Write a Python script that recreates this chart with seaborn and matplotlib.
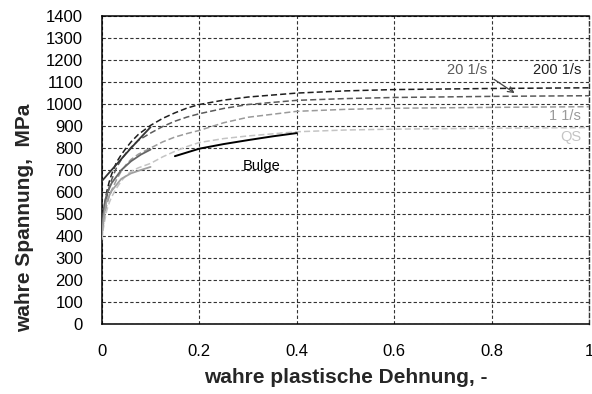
import matplotlib
matplotlib.use("Agg")
import matplotlib.pyplot as plt
import seaborn as sns
import pandas as pd

# Fitted flow curves (true plastic strain vs. true stress, MPa)
strain_fit = [0.0, 0.0025, 0.005, 0.01, 0.015, 0.02, 0.03, 0.04, 0.05, 0.06,
              0.075, 0.1, 0.125, 0.15, 0.175, 0.2, 0.25, 0.3, 0.4, 0.5,
              0.6, 0.8, 1.0]
stress_200 = [420, 480, 530, 600, 645, 680, 735, 770, 800, 828,
              862, 903, 935, 960, 982, 998, 1018, 1032, 1050, 1060,
              1066, 1071, 1074]
stress_20 = [400, 460, 505, 575, 620, 655, 710, 748, 778, 803,
             835, 868, 898, 922, 941, 956, 980, 998, 1017, 1025,
             1030, 1035, 1038]
stress_1 = [390, 440, 480, 540, 578, 607, 655, 695, 725, 748,
            772, 800, 828, 850, 866, 880, 915, 940, 967, 976,
            981, 985, 988]
stress_qs = [380, 425, 460, 515, 550, 577, 617, 650, 676, 693,
             710, 730, 760, 785, 807, 825, 843, 855, 874, 882,
             886, 890, 893]

# Measured segments (tensile tests up to 0.1, bulge test 0.15..0.4)
strain_meas = [0.0, 0.005, 0.01, 0.02, 0.04, 0.06, 0.08, 0.1]
meas_dark = [650, 662, 675, 700, 750, 800, 848, 895]
meas_mid = [430, 540, 590, 640, 700, 740, 770, 793]
meas_light = [405, 500, 560, 605, 660, 685, 700, 714]

strain_bulge = [0.15, 0.2, 0.25, 0.3, 0.35, 0.4]
stress_bulge = [763, 797, 818, 836, 853, 868]

fit_labels = ["200 1/s", "20 1/s", "1 1/s", "QS"]
fit_colors = ["#1e1e1e", "#5a5a5a", "#9a9a9a", "#c4c4c4"]

sns.set_style("white")
plt.rcParams["font.family"] = ["Liberation Sans", "DejaVu Sans"]

fig = plt.figure(figsize=(5.92, 3.94), dpi=100)
ax = fig.add_axes([0.172, 0.178, 0.823, 0.781])

for lbl, ys, col in zip(fit_labels, [stress_200, stress_20, stress_1, stress_qs], fit_colors):
    df = pd.DataFrame({"strain": strain_fit, "stress": ys})
    sns.lineplot(data=df, x="strain", y="stress", ax=ax, color=col,
                 linewidth=1.1, linestyle=(0, (4, 2)), zorder=3)

for ys, col in zip([meas_dark, meas_mid, meas_light], ["#333333", "#666666", "#a0a0a0"]):
    df = pd.DataFrame({"strain": strain_meas, "stress": ys})
    sns.lineplot(data=df, x="strain", y="stress", ax=ax, color=col,
                 linewidth=1.3, zorder=4)

df_b = pd.DataFrame({"strain": strain_bulge, "stress": stress_bulge})
sns.lineplot(data=df_b, x="strain", y="stress", ax=ax, color="#000000",
             linewidth=1.4, zorder=5)

ax.set_xlim(0, 1)
ax.set_ylim(0, 1400)
ax.set_xticks([0, 0.2, 0.4, 0.6, 0.8, 1.0])
ax.set_xticklabels(["0", "0.2", "0.4", "0.6", "0.8", "1"])
ax.set_yticks(range(0, 1401, 100))
ax.tick_params(axis="both", length=0, labelsize=12, colors="black")
ax.tick_params(axis="x", pad=14.5)
ax.tick_params(axis="y", pad=13.5)

ax.grid(True, color="#333333", linestyle=(0, (3, 2)), linewidth=0.8)
ax.set_axisbelow(True)

for side in ["left", "bottom", "top"]:
    ax.spines[side].set_color("black")
    ax.spines[side].set_linewidth(1.1)
ax.spines["right"].set_color("#333333")
ax.spines["right"].set_linestyle((0, (3, 2)))
ax.spines["right"].set_linewidth(1.0)

ax.set_xlabel("wahre plastische Dehnung, -", fontsize=15, fontweight="bold")
ax.set_ylabel("wahre Spannung,  MPa", fontsize=15, fontweight="bold")
ax.xaxis.set_label_coords(0.5, -0.143)
ax.yaxis.set_label_coords(-0.14, 0.346)

ax.text(0.984, 1154, "200 1/s", ha="right", va="center", fontsize=10.5, color="#1e1e1e")
ax.text(0.790, 1157, "20 1/s", ha="right", va="center", fontsize=10.5, color="#5a5a5a")
ax.text(0.984, 948, "1 1/s", ha="right", va="center", fontsize=10.5, color="#9a9a9a")
ax.text(0.984, 849, "QS", ha="right", va="center", fontsize=10.5, color="#c4c4c4")
ax.text(0.329, 717, "Bulge", ha="center", va="center", fontsize=10.5, color="black")

ax.annotate("", xy=(0.852, 1043), xytext=(0.800, 1120),
            arrowprops=dict(arrowstyle="->", color="#444444", lw=0.9))

fig.savefig("out.png", dpi=100)
